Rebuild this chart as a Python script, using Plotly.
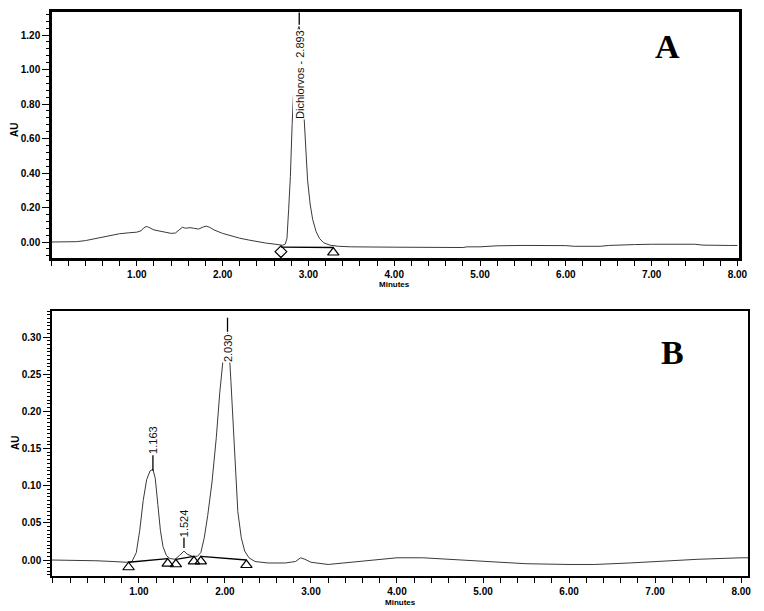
import plotly.graph_objects as go

# ---------------- data: panel A (standard) ----------------
time_a = [0.00, 0.20, 0.30, 0.40, 0.50, 0.60, 0.70, 0.80, 0.90, 1.00, 1.05, 1.08, 1.11, 1.14,
          1.20, 1.30, 1.40, 1.45, 1.50, 1.53, 1.57, 1.62, 1.66, 1.72, 1.78, 1.81, 1.85, 1.90,
          2.00, 2.10, 2.20, 2.30, 2.40, 2.50, 2.60, 2.70, 2.73, 2.75, 2.77, 2.79, 2.81, 2.83,
          2.85, 2.87, 2.89, 2.91, 2.93, 2.95, 2.97, 2.99, 3.02, 3.05, 3.09, 3.13, 3.18, 3.25,
          3.35, 3.50, 4.00, 4.50, 4.80, 4.85, 5.00, 5.20, 5.50, 6.00, 6.10, 6.40, 6.50, 6.80,
          7.00, 7.50, 7.60, 7.90, 8.00]
au_a = [0.000, 0.000, 0.002, 0.008, 0.018, 0.030, 0.040, 0.048, 0.053, 0.057, 0.065, 0.082, 0.090, 0.085,
        0.070, 0.058, 0.050, 0.052, 0.075, 0.085, 0.080, 0.083, 0.080, 0.075, 0.088, 0.092, 0.085, 0.070,
        0.050, 0.035, 0.022, 0.012, 0.002, -0.006, -0.012, -0.019, -0.012, 0.020, 0.190, 0.380, 0.680, 0.930,
        1.120, 1.220, 1.250, 1.210, 1.020, 0.720, 0.500, 0.360, 0.220, 0.130, 0.060, 0.020, -0.005, -0.018,
        -0.025, -0.028, -0.030, -0.032, -0.032, -0.028, -0.028, -0.022, -0.020, -0.021, -0.025, -0.025, -0.020, -0.015,
        -0.013, -0.013, -0.018, -0.020, -0.020]
peak_a_rt = [2.893]
peak_a_name = ["Dichlorvos - 2.893"]
base_a_t = [2.68, 3.29]          # integration start / end
base_a_au = [-0.030, -0.032]

# ---------------- data: panel B (sample) ----------------
time_b = [-0.01, 0.30, 0.50, 0.70, 0.85, 0.92, 0.97, 1.01, 1.05, 1.09, 1.13, 1.163, 1.19, 1.22,
          1.25, 1.28, 1.32, 1.36, 1.42, 1.47, 1.524, 1.56, 1.62, 1.68, 1.72, 1.76, 1.80, 1.85,
          1.90, 1.94, 1.97, 2.00, 2.03, 2.05, 2.07, 2.09, 2.12, 2.15, 2.19, 2.23, 2.28, 2.35,
          2.50, 2.70, 2.82, 2.88, 2.93, 3.00, 3.20, 3.40, 3.70, 4.00, 4.30, 4.60, 5.00, 5.50,
          6.00, 6.30, 6.70, 7.00, 7.50, 8.00, 8.08]
au_b = [0.000, 0.000, -0.001, -0.002, -0.003, -0.002, 0.010, 0.040, 0.080, 0.108, 0.120, 0.122, 0.110, 0.075,
        0.040, 0.018, 0.006, 0.002, 0.001, 0.006, 0.012, 0.008, 0.005, 0.005, 0.010, 0.030, 0.060, 0.105,
        0.165, 0.225, 0.265, 0.295, 0.305, 0.280, 0.240, 0.195, 0.120, 0.065, 0.030, 0.012, 0.003, -0.002,
        -0.004, -0.004, -0.002, 0.003, 0.001, -0.003, -0.006, -0.004, 0.000, 0.003, 0.003, 0.001, -0.002, -0.005,
        -0.006, -0.006, -0.004, -0.002, 0.001, 0.003, 0.003]
peak_b_rt = [1.163, 1.524, 2.030]
peak_b_name = ["1.163", "1.524", "2.030"]
base_b_t = [[0.88, 1.335], [1.43, 1.64], [1.72, 2.25]]
base_b_au = [[-0.003, 0.002], [0.001, 0.005], [0.005, 0.000]]

x_ticks = [1, 2, 3, 4, 5, 6, 7, 8]

# ---------------- layout geometry ----------------
PAGE_W, PAGE_H = 764, 611
OFF = 8                                  # default page body margin
W, H = PAGE_W - OFF, PAGE_H - OFF

def px(x):
    return (x - OFF) / W

def py(y):
    return 1 - (y - OFF) / H

# panel A: 0.00 at page y 242, 172.5 px per AU; axis bottom at 259
A_ZERO, A_SCALE, A_BOTTOM, A_TOP = 242, 172.5, 259, 11
yr_a = [-(A_BOTTOM - A_ZERO) / A_SCALE, (A_ZERO - A_TOP) / A_SCALE]
xr_a = [0.0, 8.03]
xr_b, yr_b = [-0.01, 8.08], [-0.0215, 0.335]
dom_xa, dom_ya = [px(51), px(740)], [py(A_BOTTOM), py(A_TOP)]
dom_xb, dom_yb = [px(52), px(748)], [py(576), py(311)]

def px_per_unit(dom, rng, size):
    return (dom[1] - dom[0]) * size / (rng[1] - rng[0])

ppu_a = px_per_unit(dom_ya, yr_a, H)
ppu_b = px_per_unit(dom_yb, yr_b, H)
tri_size = 10
line_col = "#3a3a3a"

# label placement (in axis units): [text bottom, text top, stem end]
label_a = [[0.68, 1.26, 1.33]]
label_b = [[0.141, 0.182, 0.120], [0.034, 0.065, 0.016], [0.262, 0.307, 0.326]]

fig = go.Figure()

# Panel A trace
fig.add_trace(go.Scatter(x=time_a, y=au_a, mode="lines", line=dict(color=line_col, width=1),
                         xaxis="x", yaxis="y", hoverinfo="skip"))
# Panel A integration baseline + markers
fig.add_trace(go.Scatter(x=base_a_t, y=base_a_au, mode="lines", line=dict(color="black", width=1.3),
                         xaxis="x", yaxis="y"))
off_a = (tri_size / 2) / ppu_a
fig.add_trace(go.Scatter(x=[base_a_t[0]], y=[base_a_au[0] - off_a * 0.9], mode="markers",
                         marker=dict(symbol="diamond-open", size=9, color="black", line=dict(width=1.2)),
                         xaxis="x", yaxis="y"))
fig.add_trace(go.Scatter(x=[base_a_t[1]], y=[base_a_au[1] - off_a], mode="markers",
                         marker=dict(symbol="triangle-up-open", size=tri_size, color="black", line=dict(width=1.2)),
                         xaxis="x", yaxis="y"))

# Panel B trace
fig.add_trace(go.Scatter(x=time_b, y=au_b, mode="lines", line=dict(color=line_col, width=1),
                         xaxis="x2", yaxis="y2", hoverinfo="skip"))
off_b = (tri_size / 2) / ppu_b
for bt, ba in zip(base_b_t, base_b_au):
    fig.add_trace(go.Scatter(x=bt, y=ba, mode="lines", line=dict(color="black", width=1.3),
                             xaxis="x2", yaxis="y2"))
    fig.add_trace(go.Scatter(x=bt, y=[v - off_b for v in ba], mode="markers",
                             marker=dict(symbol="triangle-up-open", size=tri_size, color="black",
                                         line=dict(width=1.2)),
                             xaxis="x2", yaxis="y2"))

annotations = []

def add_labels(rts, names, spans, xa, ya):
    for rt, name, (lo, hi, stem) in zip(rts, names, spans):
        edge = hi if stem > hi else lo
        fig.add_trace(go.Scatter(x=[rt, rt], y=[edge, stem], mode="lines",
                                 line=dict(color="black", width=1.3), xaxis=xa, yaxis=ya))
        annotations.append(dict(x=rt, y=(lo + hi) / 2, xref=xa, yref=ya, text=name, textangle=-90,
                                showarrow=False, bgcolor="white", borderpad=0,
                                font=dict(family="Liberation Sans, Arial", size=11, color="#111"),
                                xanchor="center", yanchor="middle"))

add_labels(peak_a_rt, peak_a_name, label_a, "x", "y")
add_labels(peak_b_rt, peak_b_name, label_b, "x2", "y2")

tickfont = dict(family="Liberation Sans, Arial", size=10, color="black", weight="bold")
titlefont = dict(family="Liberation Sans, Arial", size=8, color="black", weight="bold")
au_font = dict(family="Liberation Sans, Arial", size=10, color="black", weight="bold")
letter_font = dict(family="Liberation Serif, Times New Roman", size=34, color="black", weight="bold")

# axis titles and panel letters
for (xp, yp, txt, ang, fnt) in [
    (395, 284, "Minutes", 0, titlefont),
    (400, 602, "Minutes", 0, titlefont),
    (15, 130, "AU", -90, au_font),
    (15, 443, "AU", -90, au_font),
    (667, 46, "A", 0, letter_font),
    (672, 353, "B", 0, letter_font),
]:
    annotations.append(dict(x=px(xp), y=py(yp), xref="paper", yref="paper", text=txt,
                            textangle=ang, showarrow=False, font=fnt,
                            xanchor="center", yanchor="middle"))

def xaxis_cfg(rng, dom, anchor):
    return dict(range=rng, domain=dom, anchor=anchor, automargin=False, showline=True, mirror=True,
                linecolor="black", linewidth=1.5, showgrid=False, zeroline=False, ticks="outside",
                ticklen=5, tickwidth=1.3, tickcolor="black", tickmode="array", tickvals=x_ticks,
                ticktext=[f"{v:.2f}" for v in x_ticks], tickfont=tickfont,
                minor=dict(dtick=0.2, tick0=0, ticks="outside", ticklen=5, tickwidth=1.3, tickcolor="black"))

def yaxis_cfg(rng, dom, anchor, dt, mdt):
    return dict(range=rng, domain=dom, anchor=anchor, automargin=False, showline=True, mirror=True,
                linecolor="black", linewidth=1.5, showgrid=False, zeroline=False, ticks="outside",
                ticklen=7, tickwidth=1, tickcolor="black", dtick=dt, tick0=0, tickformat=".2f",
                tickfont=tickfont,
                minor=dict(dtick=mdt, tick0=0, ticks="outside", ticklen=3, tickwidth=1, tickcolor="black"))

# frame of panel A drawn explicitly as well (its top edge sits near the page edge)
frame_shapes = [dict(type="rect", xref="x domain", yref="y domain", x0=0, x1=1, y0=0, y1=1,
                     line=dict(color="black", width=2), layer="above")]

fig.update_layout(
    width=W, height=H, margin=dict(l=0, r=0, t=0, b=0),
    paper_bgcolor="white", plot_bgcolor="white", showlegend=False,
    xaxis=xaxis_cfg(xr_a, dom_xa, "y"),
    yaxis=yaxis_cfg(yr_a, dom_ya, "x", 0.2, 0.04),
    xaxis2=xaxis_cfg(xr_b, dom_xb, "y2"),
    yaxis2=yaxis_cfg(yr_b, dom_yb, "x2", 0.05, 0.005),
    annotations=annotations,
    shapes=frame_shapes,
)

fig.write_html("out.html")
